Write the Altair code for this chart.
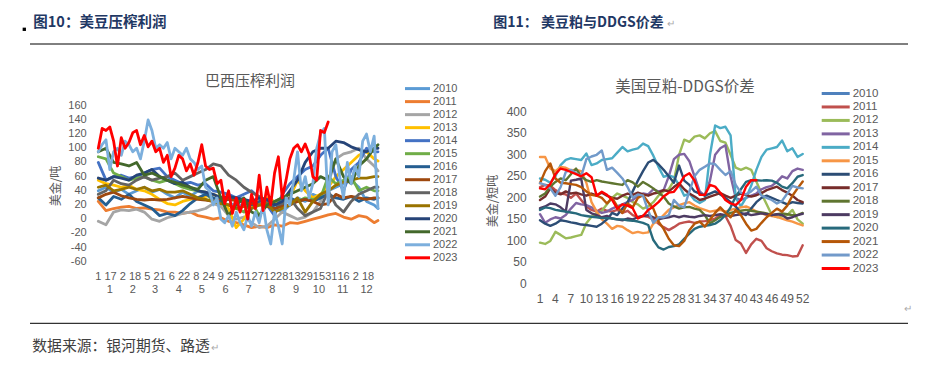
import altair as alt
import pandas as pd

FONT = "Noto Sans CJK SC"
NUMFONT = "Liberation Sans"
GRAY = "#595959"
YEARS = [str(y) for y in range(2010, 2024)]

# ---------------- left chart: Brazil crush margin (USD/t), day of year ----------------
L_DAYS = [1, 11, 21, 31, 41, 51, 61, 71, 81, 91, 101, 111, 121, 131, 141, 151, 161, 171, 181,
          191, 201, 211, 221, 231, 241, 251, 261, 271, 281, 291, 301, 311, 321, 331, 341, 351, 361, 366]
L_FINE_DAYS = list(range(1, 367, 5))

L_2010 = [40, 45, 38, 42, 35, 40, 45, 38, 42, 35, 30, 38, 32, 40, 35, 28, 25, 20, 22, 18,
          15, 20, 25, 15, 10, 20, 30, 25, 35, 30, 40, 45, 50, 55, 45, 25, 20, 15]
L_2011 = [25, 12, 15, 17, 18, 15, 16, 14, 13, 10, 10, 8, 10, 5, 3, 0, 2, -3, -5, -8,
          -12, -10, -12, -8, -10, -5, -6, -3, 0, 3, 6, 8, 3, 0, 5, 3, -5, -2]
L_2012 = [-3, -8, 10, 13, 12, 14, 10, 0, -3, 2, 5, 8, 10, 12, 15, 22, 18, 5, 0, 3,
          -5, -12, -10, 0, 10, 5, 0, 3, 10, 25, 50, 85, 92, 95, 100, 85, 75, 68]
L_2013 = [55, 50, 48, 45, 48, 42, 40, 35, 28, 22, 20, 25, 28, 30, 32, 35, 30, 15, -12, 0,
          18, 25, 30, 25, 22, 30, 55, 40, 30, 35, 45, 60, 70, 80, 90, 95, 85, 82]
L_2014 = [80, 55, 60, 62, 58, 60, 65, 70, 72, 60, 55, 50, 52, 48, 50, 40, 38, 35, 30, 35,
          40, 30, 20, 5, 35, 50, 60, 70, 75, 90, 100, 60, 40, 70, 80, 100, 95, 95]
L_2015 = [88, 85, 65, 60, 55, 58, 60, 55, 52, 55, 50, 45, 42, 40, 38, 25, 22, 20, 15, 10,
          25, 5, 20, 25, 30, 28, 25, 30, 28, 30, 60, 50, 55, 60, 40, 45, 40, 40]
L_2016 = [30, 20, 32, 28, 35, 25, 20, 15, 5, 8, 5, 12, 22, 30, 35, 30, 25, 28, 30, 22,
          20, 25, 25, 15, 20, 30, 25, 28, 25, 30, 35, 30, 28, 32, 25, 30, 28, 30]
L_2017 = [30, 35, 38, 33, 30, 28, 27, 28, 27, 28, 30, 32, 30, 28, 27, 25, 30, 28, 26, 25,
          22, 20, 18, 15, 18, 20, 25, 28, 25, 20, 22, 35, 30, 32, 30, 28, 30, 30]
L_2018 = [35, 40, 55, 50, 48, 55, 60, 55, 58, 60, 65, 55, 60, 65, 70, 78, 75, 62, 55, 45,
          38, 32, 25, 20, 22, 30, 15, 5, 10, 15, 40, 20, 10, 25, 35, 40, 45, 45]
L_2019 = [45, 48, 40, 42, 45, 42, 45, 40, 42, 38, 38, 40, 35, 30, 28, 25, 22, 20, 15, 18,
          15, 20, 22, 10, 15, 20, 30, 10, 25, 35, 40, 48, 52, 55, 58, 58, 60, 60]
L_2020 = [58, 55, 60, 58, 55, 62, 65, 70, 60, 55, 50, 52, 45, 40, 38, 35, 30, 32, 30, 28,
          25, 30, 28, 20, 25, 40, 55, 80, 95, 100, 100, 110, 108, 102, 98, 95, 100, 100]
L_2021 = [95, 100, 80, 78, 75, 80, 62, 65, 60, 55, 52, 48, 45, 42, 55, 60, 30, 5, 20, 30,
          10, 5, 20, 25, 30, 35, 40, 45, 50, 60, 55, 85, 60, 50, 75, 85, 100, 105]
L_2022 = [95, 105, 112, 70, 95, 100, 90, 110, 105, 95, 100, 85, 110, 140,
          125, 100, 105, 100, 108, 85, 100, 95, 90, 100, 85, 80, 70, 75,
          45, 40, 20, 30, 0, -5, 5, -10, 10, -5, -15, 5, -10, 10,
          -5, 20, -15, -35, 10, -10, -35, 30, 20, 55, 95, 40, 60, 30,
          50, 100, 120, 128, 20, 95, 105, 60, 30, 80, 50, 75, 60, 110,
          120, 95, 117, 15]
L_2023 = [100, 128, 125, 130, 110, 75, 115, 100, 108, 122, 125, 105, 118, 102, 110, 95,
          100, 80, 90, 60, 72, 90, 85, 68, 78, 62, 80, 105, 75, 70, 72, 50, 55, 22, 40, 8,
          30, 10, 28, 0, 35, 15, 62, 12, 45, 20, 65, 88, 30, 55, 85, 100, 105, 95, 106, 92,
          60, 55, 125, 122, 137]
L_COLORS = ["#5B9BD5", "#ED7D31", "#A5A5A5", "#FFC000", "#4472C4", "#70AD47", "#255E91",
            "#9E480E", "#636363", "#997300", "#264478", "#43682B", "#7CAFDD", "#FF0000"]

L_YTICKS = [-60, -40, -20, 0, 20, 40, 60, 80, 100, 120, 140, 160]
L_XTICK_DAYS = list(range(1, 354, 16))
L_XTICK_LABELS = ["1", "17", "2", "18", "5", "21", "6", "22", "8", "24", "9", "25", "11", "27",
                  "12", "28", "13", "29", "15", "31", "16", "2", "18"]
L_MONTH_DAYS = [16, 46, 75, 106, 136, 167, 197, 228, 259, 289, 320, 351]
L_MONTH_LABELS = [str(m) for m in range(1, 13)]

# ---------------- right chart: US soymeal - DDGS spread (USD/short ton), week ----------------
WEEKS = list(range(1, 53))
R_2010 = []
R_2011 = [225, 230, 228, 218, 210, 208, 200, 210, 195, 180, 172, 168, 175, 170, 168, 172, 165, 170,
          160, 155, 158, 156, 150, 140, 132, 125, 132, 140, 143, 145, 142, 145, 146, 148, 152, 160,
          158, 135, 102, 94, 72, 92, 105, 100, 83, 76, 71, 68, 67, 64, 65, 90]
R_2012 = [96, 93, 100, 121, 114, 106, 108, 111, 114, 141, 156, 164, 170, 185, 200, 210, 205, 200,
          190, 185, 175, 180, 190, 205, 215, 220, 240, 300, 335, 330, 342, 345, 338, 350, 355, 332,
          328, 300, 270, 265, 270, 265, 238, 210, 185, 160, 155, 157, 160, 172, 150, 140]
R_2013 = [162, 142, 150, 155, 152, 160, 175, 188, 185, 183, 178, 170, 165, 168, 175, 180, 185, 190,
          195, 205, 210, 208, 220, 215, 218, 250, 290, 300, 302, 285, 250, 215, 205, 240, 300, 315,
          322, 250, 200, 195, 200, 205, 210, 220, 225, 228, 237, 250, 245, 262, 268, 265]
R_2014 = [245, 242, 235, 250, 276, 288, 292, 290, 288, 303, 276, 280, 288, 290, 292, 305, 318, 308,
          312, 315, 326, 320, 298, 272, 249, 252, 248, 230, 205, 210, 195, 188, 195, 300, 368, 362,
          365, 345, 200, 180, 200, 228, 265, 295, 312, 315, 318, 333, 308, 315, 295, 302]
R_2015 = [295, 295, 268, 262, 272, 270, 264, 265, 262, 235, 190, 168, 150, 140, 128, 135, 133, 125,
          118, 121, 118, 120, 140, 148, 160, 172, 178, 183, 187, 190, 182, 176, 172, 168, 170, 172,
          168, 172, 175, 178, 180, 175, 168, 164, 160, 158, 156, 152, 148, 145, 140, 136]
R_2016 = [148, 140, 135, 140, 148, 146, 143, 141, 138, 137, 135, 133, 140, 150, 165, 160, 175, 190,
          215, 240, 262, 282, 288, 278, 265, 250, 235, 275, 240, 230, 215, 210, 205, 210, 215, 208,
          200, 190, 180, 165, 160, 175, 190, 200, 205, 200, 195, 190, 185, 190, 188, 187]
R_2017 = [195, 203, 222, 212, 208, 215, 210, 212, 208, 205, 210, 206, 212, 205, 200, 198, 205, 210,
          207, 212, 208, 205, 210, 212, 218, 215, 225, 234, 220, 210, 203, 195, 198, 203, 207, 211,
          205, 200, 205, 210, 207, 203, 206, 211, 218, 222, 226, 218, 212, 205, 195, 190]
R_2018 = [203, 210, 226, 237, 245, 241, 255, 268, 250, 241, 237, 241, 238, 236, 234, 232, 230, 241,
          236, 226, 237, 230, 222, 212, 203, 187, 180, 175, 178, 179, 175, 172, 160, 141, 148, 156,
          160, 165, 168, 170, 172, 170, 168, 166, 164, 160, 162, 164, 162, 160, 160, 165]
R_2019 = [176, 180, 187, 185, 178, 168, 240, 242, 245, 172, 164, 160, 155, 158, 152, 150, 148, 152,
          150, 155, 158, 160, 155, 150, 153, 155, 158, 155, 158, 156, 155, 158, 160, 158, 160, 162,
          160, 158, 160, 162, 164, 160, 162, 164, 162, 160, 162, 160, 152, 155, 160, 163]
R_2020 = [172, 178, 176, 172, 170, 168, 166, 164, 160, 158, 156, 155, 153, 153, 152, 150, 150, 148,
          147, 145, 142, 137, 102, 85, 80, 86, 88, 92, 105, 117, 128, 133, 135, 137, 140, 148,
          160, 178, 203, 220, 237, 241, 241, 240, 241, 240, 235, 226, 222, 234, 249, 253]
R_2021 = [234, 262, 280, 245, 235, 234, 232, 230, 225, 215, 207, 205, 200, 187, 200, 180, 165, 187,
          178, 200, 206, 190, 175, 145, 128, 105, 90, 88, 100, 125, 140, 145, 133, 150, 165, 178,
          165, 155, 172, 160, 140, 124, 128, 142, 155, 165, 175, 168, 182, 205, 222, 238]
R_2022 = [234, 230, 222, 205, 225, 260, 265, 257, 250, 290, 296, 300, 310, 265, 270, 258, 245, 225,
          200, 208, 205, 170, 142, 155, 155, 160, 195, 182, 178, 215, 250, 265, 272, 280, 278, 265,
          253, 262, 230, 212, 208, 215, 226, 205, 200, 195, 187, 193, 210, 228, 224, 222]
R_2023 = [222, 220, 232, 255, 268, 265, 260, 255, 250, 257, 248, 205, 214, 207, 195, 175, 185, 182,
          176, 152, 158, 172, 180, 190, 203, 212, 214, 230, 250, 257, 240, 207, 207, 230, 226, 212,
          195, 187, 183, 195, 226, 241, 241]
R_COLORS = ["#4F81BD", "#C0504D", "#9BBB59", "#8064A2", "#4BACC6", "#F79646", "#2C4D75",
            "#772C2A", "#5F7530", "#4D3B62", "#276A7C", "#B65708", "#729ACA", "#FF0000"]

R_YTICKS = [0, 50, 100, 150, 200, 250, 300, 350, 400]
R_XTICKS = list(range(1, 53, 3))

# ---------------- tables ----------------
left_series = [L_2010, L_2011, L_2012, L_2013, L_2014, L_2015, L_2016, L_2017, L_2018,
               L_2019, L_2020, L_2021, L_2022, L_2023]
rows = []
for yr, vals in zip(YEARS, left_series):
    days = L_FINE_DAYS if yr in ("2022", "2023") else L_DAYS
    for d, v in zip(days, vals):
        rows.append({"year": yr, "day": d, "v": v})
left_df = pd.DataFrame(rows)

right_series = [R_2010, R_2011, R_2012, R_2013, R_2014, R_2015, R_2016, R_2017, R_2018,
                R_2019, R_2020, R_2021, R_2022, R_2023]
rows = []
for yr, vals in zip(YEARS, right_series):
    for w, v in zip(WEEKS, vals):
        rows.append({"year": yr, "week": w, "v": v})
right_df = pd.DataFrame(rows)
years_df = pd.DataFrame({"year": YEARS})

# ---------------- scales (chart coords = page coords - 8) ----------------
LX = alt.Scale(domain=[1, 366], range=[90.3, 370], nice=False, zero=False)
LY = alt.Scale(domain=[-60, 160], range=[253.7, 97.7], nice=False, zero=False)
RX = alt.Scale(domain=[1, 52], range=[532, 794.7], nice=False, zero=False)
RY = alt.Scale(domain=[0, 400], range=[276, 103.7], nice=False, zero=False)
LC = alt.Scale(domain=YEARS, range=L_COLORS)
RC = alt.Scale(domain=YEARS, range=R_COLORS)
L_LEG = alt.Scale(type="point", domain=YEARS, range=[80.6, 249.8], padding=0)
R_LEG = alt.Scale(type="point", domain=YEARS, range=[85.5, 260.5], padding=0)


def txt(t, x, y, size, color=GRAY, weight="normal", align="center", angle=0):
    return alt.Chart(pd.DataFrame({"t": [t]})).mark_text(
        font=FONT, fontSize=size, color=color, fontWeight=weight, align=align,
        baseline="middle", angle=angle).encode(x=alt.value(x), y=alt.value(y), text="t:N")


def legend_layer(cscale, yscale, x0, length, fs):
    sym = alt.Chart(years_df).mark_rule(strokeWidth=3).encode(
        x=alt.value(x0), x2=alt.value(x0 + length),
        y=alt.Y("year:N", scale=yscale, axis=None),
        color=alt.Color("year:N", scale=cscale, legend=None))
    lab = alt.Chart(years_df).mark_text(font=NUMFONT, fontSize=fs, color=GRAY, align="left",
                                        baseline="middle").encode(
        x=alt.value(x0 + length + 3), y=alt.Y("year:N", scale=yscale, axis=None), text="year:N")
    return alt.layer(sym, lab)


left_lines = alt.Chart(left_df).mark_line(strokeJoin="round", strokeCap="round").encode(
    x=alt.X("day:Q", scale=LX, axis=None),
    y=alt.Y("v:Q", scale=LY, axis=None),
    color=alt.Color("year:N", scale=LC, legend=None),
    strokeWidth=alt.StrokeWidth("year:N", scale=alt.Scale(domain=YEARS, range=[2.8] * 13 + [3.4]),
                                legend=None),
)
left_ylab = alt.Chart(pd.DataFrame({"v": L_YTICKS, "t": [str(v) for v in L_YTICKS]})).mark_text(
    font=NUMFONT, fontSize=11, color=GRAY, align="right", baseline="middle").encode(
    x=alt.value(78.7), y=alt.Y("v:Q", scale=LY, axis=None), text="t:N")
left_xlab = alt.Chart(pd.DataFrame({"day": L_XTICK_DAYS, "t": L_XTICK_LABELS})).mark_text(
    font=NUMFONT, fontSize=11, color=GRAY, align="center", baseline="middle").encode(
    x=alt.X("day:Q", scale=LX, axis=None), y=alt.value(269), text="t:N")
left_mlab = alt.Chart(pd.DataFrame({"day": L_MONTH_DAYS, "t": L_MONTH_LABELS})).mark_text(
    font=NUMFONT, fontSize=11, color=GRAY, align="center", baseline="middle").encode(
    x=alt.X("day:Q", scale=LX, axis=None), y=alt.value(282), text="t:N")
left = alt.layer(left_lines, left_ylab, left_xlab, left_mlab,
                 txt("巴西压榨利润", 242, 72.7, 15),
                 txt("美金/吨", 48, 178, 12, angle=270))

right_lines = alt.Chart(right_df).mark_line(strokeJoin="round", strokeCap="round").encode(
    x=alt.X("week:Q", scale=RX, axis=None),
    y=alt.Y("v:Q", scale=RY, axis=None),
    color=alt.Color("year:N", scale=RC, legend=None),
    strokeWidth=alt.StrokeWidth("year:N", scale=alt.Scale(domain=YEARS, range=[2.4] * 13 + [3.3]),
                                legend=None),
)
right_ylab = alt.Chart(pd.DataFrame({"v": R_YTICKS, "t": [str(v) for v in R_YTICKS]})).mark_text(
    font=NUMFONT, fontSize=12, color=GRAY, align="right", baseline="middle").encode(
    x=alt.value(518.7), y=alt.Y("v:Q", scale=RY, axis=None), text="t:N")
right_xlab = alt.Chart(pd.DataFrame({"week": R_XTICKS, "t": [str(w) for w in R_XTICKS]})).mark_text(
    font=NUMFONT, fontSize=12, color=GRAY, align="center", baseline="middle").encode(
    x=alt.X("week:Q", scale=RX, axis=None), y=alt.value(291), text="t:N")
right = alt.layer(right_lines, right_ylab, right_xlab,
                  txt("美国豆粕-DDGS价差", 677, 79, 15.5),
                  txt("美金/短吨", 485, 193, 12, angle=270))

left_legend = legend_layer(LC, L_LEG, 397, 25, 11)
right_legend = legend_layer(RC, R_LEG, 813.7, 28, 11.5)

# ---------------- page decorations ----------------
NAVY = "#1F3864"
one = pd.DataFrame({"a": [0]})
rule_top = alt.Chart(one).mark_rule(color="#000000", strokeWidth=1).encode(
    x=alt.value(22), x2=alt.value(900), y=alt.value(36))
rule_bot = alt.Chart(one).mark_rule(color="#000000", strokeWidth=1).encode(
    x=alt.value(22), x2=alt.value(900), y=alt.value(315.3))
square = alt.Chart(one).mark_square(color="#000000", size=11, opacity=1).encode(
    x=alt.value(16.3), y=alt.value(21.3))
deco = alt.layer(
    rule_top, rule_bot, square,
    txt("图10：美豆压榨利润", 25.3, 15.3, 14.5, color=NAVY, weight="bold", align="left"),
    txt("图11：  美豆粕与DDGS价差", 485.3, 15.3, 14, color=NAVY, weight="bold", align="left"),
    txt("↵", 659, 16, 10, color="#aaaaaa", align="left"),
    txt("数据来源：银河期货、路透", 24.3, 339.3, 14.8, color="#404040", align="left"),
    txt("↵", 203, 340, 10, color="#aaaaaa", align="left"),
    txt("↵", 896, 300.5, 10, color="#aaaaaa", align="left"),
)

chart = alt.layer(left, right, left_legend, right_legend, deco).resolve_scale(
    x="independent", y="independent", color="independent", strokeWidth="independent"
).properties(
    width=909, height=354, autosize=alt.AutoSizeParams(type="none"), padding=0
).configure_view(stroke=None)

chart.save("out.html", embed_options={"renderer": "svg", "actions": False})
